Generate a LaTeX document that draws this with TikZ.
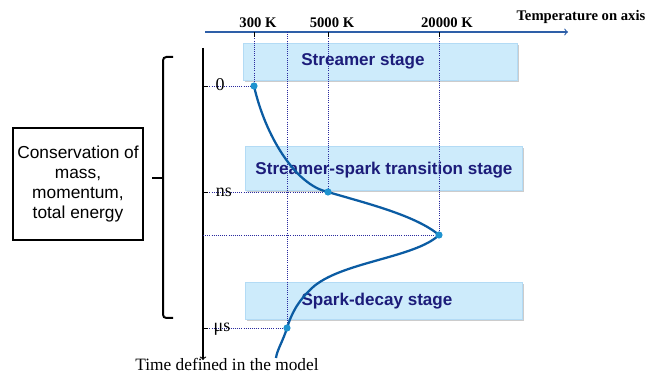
\documentclass[tikz,border=0pt]{standalone}
\usepackage{fontspec}
\setmainfont{Liberation Serif}
\setsansfont{Liberation Sans}
\usetikzlibrary{shadows}
\definecolor{axisblue}{HTML}{2E5FA8}
\definecolor{curveblue}{HTML}{0B5CA3}
\definecolor{dotblue}{HTML}{1F93CF}
\definecolor{guideblue}{HTML}{2A2A9E}
\definecolor{boxfill}{HTML}{CDEBFB}
\definecolor{boxedge}{HTML}{B3DBF5}
\definecolor{boxtext}{HTML}{1C1C7A}
\begin{document}
\begin{tikzpicture}[x=.75pt,y=-.75pt,
  stagebox/.style={fill=boxfill,draw=boxedge,line width=.6pt,
    drop shadow={shadow xshift=1.4pt,shadow yshift=-1.4pt,opacity=.4}},
  stagetext/.style={font=\sffamily\bfseries\fontsize{12.8}{15}\selectfont,text=boxtext},
  templabel/.style={font=\bfseries\fontsize{11}{13}\selectfont},
  timelabel/.style={font=\fontsize{13.5}{15}\selectfont,anchor=base},
  guide/.style={densely dotted,guideblue,line width=.6pt}]
\useasboundingbox (0,0) rectangle (658,374);
% stages
\node[stagebox,minimum width=205.5pt,minimum height=27.75pt] (sbox) at (380,61.5) {};
\node[stagebox,minimum width=207.75pt,minimum height=33pt] (tbox) at (383.5,168) {};
\node[stagebox,minimum width=207.75pt,minimum height=27.75pt] (dbox) at (383.5,300.5) {};
\node[stagetext] (sname) at (363,61) {Streamer stage};
\node[stagetext] (tname) at (384,170) {Streamer-spark transition stage};
\node[stagetext] (dname) at (377,301) {Spark-decay stage};
% temperature axis
\coordinate (tstart) at (205,32);
\coordinate (tstop) at (568,32);
\draw[axisblue,line width=.9pt,->] (tstart) -- (tstop);
\node[templabel,anchor=base east] (taxis) at (650,21) {Temperature on axis};
\node[templabel,anchor=base] (k300) at (258,28) {300 K};
\node[templabel,anchor=base] (k5000) at (332,28) {5000 K};
\node[templabel,anchor=base] (k20000) at (447,28) {20000 K};
% time axis
\coordinate (ystart) at (203,48);
\coordinate (ystop) at (203,360);
\draw[line width=.8pt,->] (ystart) -- (ystop);
\node[font=\fontsize{13}{15}\selectfont,anchor=base] (yaxis) at (227,371) {Time defined in the model};
% points of the curve
\coordinate (p0) at (254,86);
\coordinate (p1) at (328,192);
\coordinate (p2) at (439,235);
\coordinate (p3) at (287,328);
\coordinate (pend) at (276,358);
\foreach \p/\x in {p0/254,p1/328,p2/439,p3/287}{
  \draw[guide] (\x,32) -- (\p);
  \draw[guide] (203,0 |- \p) -- (\p);
}
\foreach \x in {254,328,439}
  \draw[line width=.6pt] (\x,32) -- (\x,37);
\foreach \y in {86,192,328}
  \draw[line width=.6pt] (203,\y) -- (208,\y);
\node[timelabel] (t0) at (220,91) {0};
\node[timelabel] (tns) at (224,197) {ns};
\node[timelabel] (tmus) at (222,332) {μs};
% curve
\draw[curveblue,line width=1.7pt] (p0) .. controls (265,135) and (295,185) .. (p1)
  .. controls (365,203) and (415,215) .. (p2)
  .. controls (415,258) and (340,262) .. (312,288)
  .. controls (297,302) and (291,315) .. (p3)
  .. controls (283,341) and (277,350) .. (pend);
\foreach \p in {p0,p1,p2,p3}
  \fill[dotblue] (\p) circle (2.7pt);
% brace
\coordinate (btop) at (173,57);
\coordinate (btip) at (152,178);
\coordinate (bbot) at (173,318);
\draw[line width=1.5pt,rounded corners=2.5pt] (btop) -| (163,178) |- (bbot);
\draw[line width=1.5pt] (btip) -- (163,178);
\node[draw,line width=1pt,minimum width=97.5pt,minimum height=84pt,align=center,
  font=\sffamily\fontsize{13}{15}\selectfont] (cons) at (78,184)
  {Conservation of\\mass,\\momentum,\\total energy};
\end{tikzpicture}
\end{document}
